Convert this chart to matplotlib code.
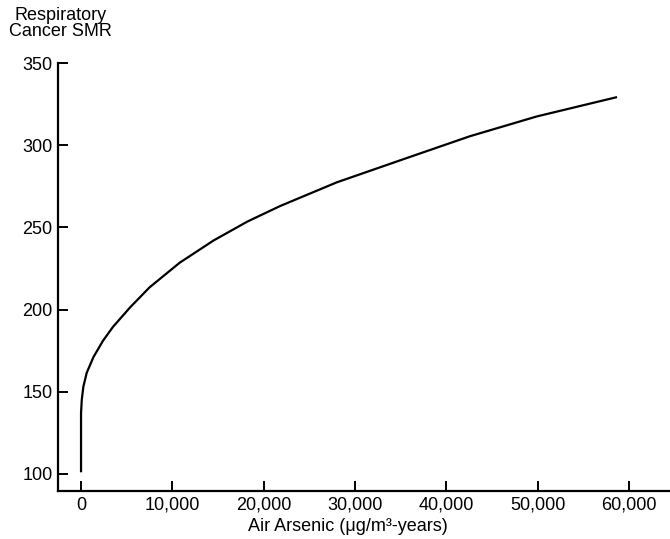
import matplotlib
matplotlib.use("Agg")
import matplotlib.pyplot as plt

# curve
arsenic = [0, 0, 80, 250, 620, 1350, 2400, 3500, 5400, 7500, 10800,
           14500, 18200, 21800, 28000, 35300, 42600, 49900, 58700]
smr = [101, 137, 145, 153, 161.5, 171, 181, 189.5, 201.5, 213.5, 228.5,
       242, 253.5, 263, 277.4, 291.5, 305.5, 317.5, 329.3]

x_ticks = [0, 10000, 20000, 30000, 40000, 50000, 60000]
x_labels = ["0", "10,000", "20,000", "30,000", "40,000", "50,000", "60,000"]
y_ticks = [100, 150, 200, 250, 300, 350]

plt.rcParams["font.family"] = ["Liberation Sans", "DejaVu Sans"]

fig = plt.figure(figsize=(6.7, 5.39), dpi=100)
ax = fig.add_axes([0.0866, 0.089, 0.9134, 0.794])

ax.plot(arsenic, smr, color="black", linewidth=1.6, solid_capstyle="butt",
        solid_joinstyle="round")

ax.set_xlim(-2520, 64500)
ax.set_ylim(89.6, 350)
ax.set_xticks(x_ticks)
ax.set_xticklabels(x_labels)
ax.set_yticks(y_ticks)

for side in ["top", "right"]:
    ax.spines[side].set_visible(False)
for side in ["left", "bottom"]:
    ax.spines[side].set_linewidth(1.6)

ax.tick_params(direction="in", length=7, width=1.4, labelsize=13)
ax.tick_params(axis="y", pad=4)
ax.tick_params(axis="x", pad=4)

ax.set_xlabel("Air Arsenic (\u03bcg/m\u00b3-years)", fontsize=13)
ax.xaxis.set_label_coords(0.474, -0.062)

fig.text(0.09, 0.987, "Respiratory\nCancer SMR", ha="center", va="top",
         fontsize=13, linespacing=0.9)

fig.savefig("out.png", dpi=100)
